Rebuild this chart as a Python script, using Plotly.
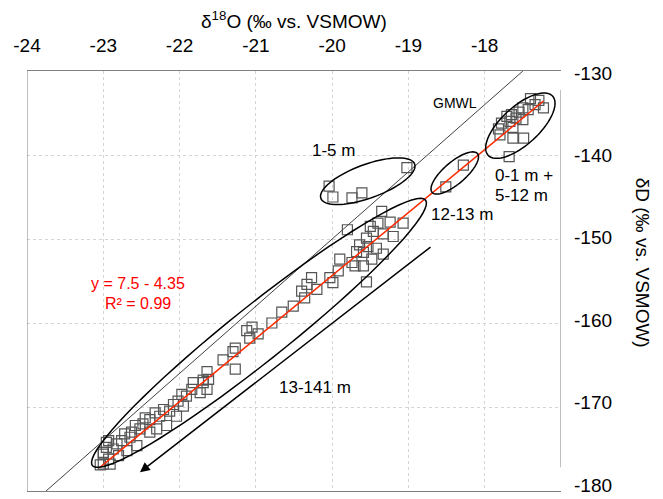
import numpy as np
import plotly.graph_objects as go

# ---- data ----
d18O_top = [-17.40, -17.29, -17.23, -17.34, -17.50, -17.43, -17.55, -17.65, -17.59, -17.50,
            -17.71, -17.78, -17.67, -17.63, -17.82, -17.80, -17.63, -17.49, -17.68]
dD_top = [-133.3, -133.5, -134.4, -134.0, -134.4, -134.6, -134.9, -135.2, -135.6, -135.8,
          -135.4, -136.2, -136.0, -136.7, -136.9, -137.6, -138.0, -138.0, -140.2]

d18O_12_13 = [-18.28, -18.51]
dD_12_13 = [-141.2, -143.8]

d18O_1_5 = [-20.04, -19.99, -19.74, -19.61, -19.02]
dD_1_5 = [-143.7, -145.0, -145.1, -144.5, -141.5]

d18O_deep = [-19.35, -19.80, -19.40, -19.50, -19.24, -19.07, -19.46, -19.33, -19.20, -19.55,
             -19.64, -19.53, -19.42, -19.68, -19.59, -19.48, -19.33, -19.90, -19.74, -19.59,
             -19.70, -19.92, -20.03, -19.99, -20.27, -20.33, -20.20, -20.40, -20.36, -20.51,
             -20.66, -20.79, -21.12, -21.05, -20.97, -21.08, -21.27, -21.30, -21.43, -21.27,
             -19.55, -21.64, -21.69,
             -21.62, -21.69, -21.82, -21.84, -21.91, -21.97, -22.02, -22.08, -21.95, -22.13,
             -22.21, -22.26, -22.32, -22.39, -22.45, -22.48, -22.52, -22.58, -22.63, -22.65,
             -22.72, -22.76, -22.82, -22.87, -22.93, -22.96, -23.00, -22.93, -22.91, -23.00,
             -22.80, -22.69, -22.56, -22.39, -22.30, -22.17, -22.04, -21.73, -21.64, -23.04,
             -22.96, -23.00]
dD_deep = [-146.7, -148.9, -148.1, -148.5, -148.0, -148.1, -149.1, -149.4, -149.7, -149.9,
           -150.7, -150.9, -151.1, -151.5, -151.6, -152.4, -151.8, -152.4, -152.8, -153.2,
           -153.2, -153.8, -154.6, -155.2, -154.6, -155.4, -156.0, -156.2, -157.0, -158.0,
           -158.7, -160.0, -160.9, -160.5, -161.3, -161.8, -163.0, -163.4, -164.4, -165.5,
           -155.1, -165.8, -166.8,
           -166.7, -167.1, -167.1, -167.9, -168.7, -168.5, -169.3, -169.7, -169.9, -170.5,
           -170.3, -171.1, -170.7, -171.5, -171.3, -172.0, -172.6, -172.2, -173.0, -173.6,
           -173.2, -174.0, -174.4, -175.0, -174.0, -174.8, -175.6, -176.2, -176.8, -176.8,
           -175.8, -175.2, -174.6, -173.0, -172.6, -172.2, -171.1, -168.3, -167.9, -176.9,
           -174.2, -175.4]

x_ticks = [-24, -23, -22, -21, -20, -19, -18]
y_ticks = [-180, -170, -160, -150, -140, -130]
x_ticktext = ["-24", "-23", "-22", "-21", "-20", "-19", "-18"]
y_ticktext = ["-180", "-170", "-160", "-150", "-140", "-130"]

gmwl_slope, gmwl_icpt = 8.0, 10.0
fit_slope, fit_icpt = 7.5, -4.35

all_x = d18O_top + d18O_12_13 + d18O_1_5 + d18O_deep
all_y = dD_top + dD_12_13 + dD_1_5 + dD_deep

# ---- geometry ----
W, H = 663, 499
ml, mr, mt, mb = 27, 102, 71, 3
xr = [-24, -17]
yr = [-180, -130]
yr_labels = [-180.72, -129.76]   # the printed right-hand scale is slightly compressed
sx = (W - ml - mr) / (xr[1] - xr[0])
sy = (H - mt - mb) / (yr[1] - yr[0])


def ellipse_path(cx, cy, a, b, ang_deg, n=80):
    t = np.linspace(0, 2 * np.pi, n)
    th = np.radians(ang_deg)
    dx = a * np.cos(t) * np.cos(th) - b * np.sin(t) * np.sin(th)
    dy = a * np.cos(t) * np.sin(th) + b * np.sin(t) * np.cos(th)
    xs = cx + dx / sx
    ys = cy + dy / sy
    return "M " + " L ".join(f"{x:.4f},{y:.4f}" for x, y in zip(xs, ys)) + " Z"


fig = go.Figure()

gx = np.array([(yr[0] - gmwl_icpt) / gmwl_slope, (yr[1] - gmwl_icpt) / gmwl_slope])
fig.add_trace(go.Scatter(x=gx, y=gmwl_slope * gx + gmwl_icpt, mode="lines",
                         line=dict(color="#404040", width=1), hoverinfo="skip", showlegend=False))

fig.add_trace(go.Scatter(x=all_x, y=all_y, mode="markers",
                         marker=dict(symbol="square-open", size=10, color="#555555",
                                     line=dict(width=1.2)),
                         showlegend=False))

fx = np.array([min(all_x), max(all_x)])
fig.add_trace(go.Scatter(x=fx, y=fit_slope * fx + fit_icpt, mode="lines",
                         line=dict(color="#ff2a00", width=1.5), hoverinfo="skip", showlegend=False))

fig.add_trace(go.Scatter(x=[xr[0]], y=[yr_labels[0]], yaxis="y2", mode="markers",
                         marker=dict(opacity=0), hoverinfo="skip", showlegend=False))

frame = dict(color="#808080", width=1)
shapes = [
    dict(type="line", xref="x", yref="y", x0=xr[0], x1=xr[0], y0=yr[0], y1=yr[1], line=frame),
    dict(type="line", xref="x", yref="y", x0=xr[1], x1=xr[1], y0=-132.24, y1=-177.18, line=frame),
]
for (cx, cy, a, b, ang) in [(-20.959, -161.18, 214, 28, 38.9),
                            (-19.533, -143.12, 50, 17, 20.4),
                            (-18.393, -142.14, 30, 11, 41),
                            (-17.533, -136.51, 44, 19, 43)]:
    shapes.append(dict(type="path", xref="x", yref="y", path=ellipse_path(cx, cy, a, b, ang),
                       line=dict(color="black", width=1.5), fillcolor="rgba(0,0,0,0)"))

FONT = "Liberation Sans, Arial"
ann = []
lab = dict(xref="x", yref="y", showarrow=False, font=dict(family=FONT, size=17, color="black"))
ann.append(dict(lab, x=-18.39, y=-133.76, text="GMWL", font=dict(family=FONT, size=14, color="black")))
ann.append(dict(lab, x=-19.985, y=-139.49, text="1-5 m"))
ann.append(dict(lab, x=-18.302, y=-147.14, text="12-13 m"))
ann.append(dict(lab, x=-17.891, y=-142.47, text="0-1 m +", xanchor="left"))
ann.append(dict(lab, x=-17.891, y=-144.86, text="5-12 m", xanchor="left"))
ann.append(dict(lab, x=-20.225, y=-167.73, text="13-141 m"))
red = dict(family=FONT, size=16, color="#ff0000")
ann.append(dict(lab, x=-22.549, y=-155.29, text="y = 7.5 - 4.35", font=red))
ann.append(dict(lab, x=-22.549, y=-157.73, text="R² = 0.99", font=red))
ann.append(dict(xref="x", yref="y", axref="x", ayref="y", x=-22.519, y=-177.76,
                ax=-18.691, ay=-150.82, showarrow=True, arrowhead=2, arrowsize=1.3,
                arrowwidth=1.5, arrowcolor="black", text=""))
ann.append(dict(xref="paper", yref="paper", x=0.5, y=(H - 19 - mb) / (H - mt - mb), showarrow=False,
                text="δ<sup>18</sup>O (‰ vs. VSMOW)", yanchor="middle",
                font=dict(family=FONT, size=19, color="black")))
ann.append(dict(xref="paper", yref="paper", x=(642 - ml) / (W - ml - mr), y=(H - 265 - mb) / (H - mt - mb),
                showarrow=False, text="δD (‰ vs. VSMOW)", textangle=90,
                xanchor="center", yanchor="middle",
                font=dict(family=FONT, size=19, color="black")))

fig.update_layout(
    width=W, height=H, margin=dict(l=ml, r=mr, t=mt, b=mb),
    paper_bgcolor="white", plot_bgcolor="white",
    shapes=shapes, annotations=ann,
    font=dict(family=FONT, size=19, color="black"),
    xaxis=dict(range=xr, side="top", tickvals=x_ticks, ticktext=x_ticktext, ticks="",
               ticklabelstandoff=10, ticklabeloverflow="allow",
               showgrid=True, gridcolor="#d4d4d4", griddash="dot", gridwidth=1,
               showline=True, linecolor="#808080", linewidth=1, mirror=True, zeroline=False,
               tickfont=dict(size=19)),
    yaxis=dict(range=yr, side="right", tickvals=y_ticks, showticklabels=False, ticks="",
               showgrid=True, gridcolor="#d4d4d4", griddash="dot", gridwidth=1,
               showline=False, zeroline=False),
    yaxis2=dict(range=yr_labels, overlaying="y", side="right", tickvals=y_ticks,
                ticktext=y_ticktext, ticks="", ticklabelstandoff=12, ticklabeloverflow="allow",
                showgrid=False, showline=False, zeroline=False,
                tickfont=dict(size=19)),
)

fig.write_html("out.html", config={"displayModeBar": False},
               post_script="document.body.style.margin='0';document.body.style.overflow='hidden';")
